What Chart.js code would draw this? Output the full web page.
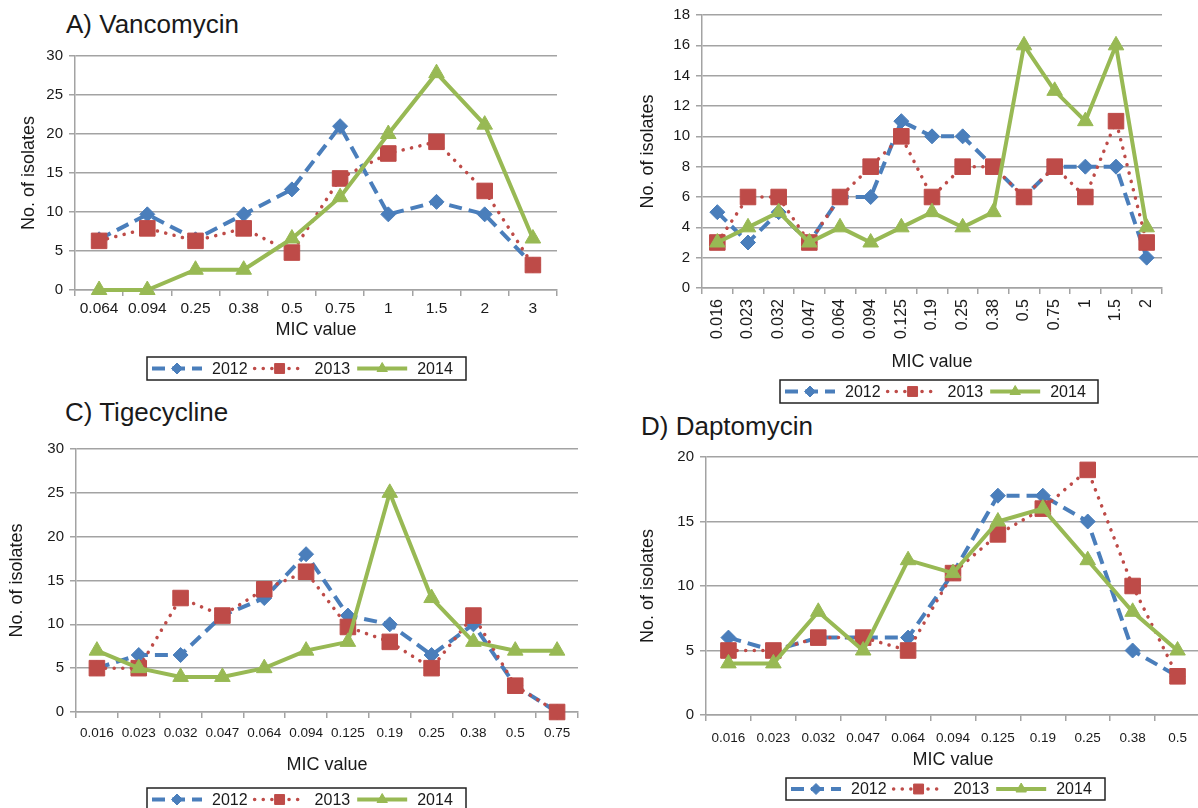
<!DOCTYPE html>
<html>
<head>
<meta charset="utf-8">
<script src="https://cdn.jsdelivr.net/npm/chart.js@4.4.0/dist/chart.umd.min.js"></script>
<style>
  html, body { margin: 0; padding: 0; background: #fff; }
  body { position: relative; width: 1198px; height: 808px; overflow: hidden; font-family: "Liberation Sans", Arial, sans-serif; }
  canvas { position: absolute; }
  .ttl { position: absolute; font-size: 26px; line-height: 26px; color: #1a1a1a; white-space: nowrap; }
</style>
</head>
<body>
<div class="ttl" style="left:66px;top:11px">A) Vancomycin</div>
<div class="ttl" style="left:65px;top:399px">C) Tigecycline</div>
<div class="ttl" style="left:641px;top:413px">D) Daptomycin</div>
<canvas id="chartA" width="600" height="390" style="left:0;top:0"></canvas>
<canvas id="chartB" width="598" height="410" style="left:600px;top:0"></canvas>
<canvas id="chartC" width="600" height="418" style="left:0;top:390px"></canvas>
<canvas id="chartD" width="612" height="408" style="left:600px;top:400px"></canvas>
<script>
// Data
const years = ["2012", "2013", "2014"];

const vancoMic = ["0.064", "0.094", "0.25", "0.38", "0.5", "0.75", "1", "1.5", "2", "3"];
const vanco2012 = [6.5, 9.7, 6.5, 9.7, 12.9, 21, 9.7, 11.3, 9.7, 3.2];
const vanco2013 = [6.3, 7.9, 6.3, 7.9, 4.8, 14.3, 17.5, 19, 12.7, 3.2];
const vanco2014 = [0, 0, 2.6, 2.6, 6.6, 11.9, 20, 27.8, 21.2, 6.6];

const panelBMic = ["0.016", "0.023", "0.032", "0.047", "0.064", "0.094", "0.125", "0.19", "0.25", "0.38", "0.5", "0.75", "1", "1.5", "2"];
const panelB2012 = [5, 3, 5, 3, 6, 6, 11, 10, 10, 8, 6, 8, 8, 8, 2];
const panelB2013 = [3, 6, 6, 3, 6, 8, 10, 6, 8, 8, 6, 8, 6, 11, 3];
const panelB2014 = [3, 4, 5, 3, 4, 3, 4, 5, 4, 5, 16, 13, 11, 16, 4];

const tigeMic = ["0.016", "0.023", "0.032", "0.047", "0.064", "0.094", "0.125", "0.19", "0.25", "0.38", "0.5", "0.75"];
const tige2012 = [5, 6.5, 6.5, 11, 13, 18, 11, 10, 6.5, 10, 3, 0];
const tige2013 = [5, 5, 13, 11, 14, 16, 9.7, 8, 5, 11, 3, 0];
const tige2014 = [7, 5, 4, 4, 5, 7, 8, 25, 13, 8, 7, 7];

const daptoMic = ["0.016", "0.023", "0.032", "0.047", "0.064", "0.094", "0.125", "0.19", "0.25", "0.38", "0.5"];
const dapto2012 = [6, 5, 6, 6, 6, 11, 17, 17, 15, 5, 3];
const dapto2013 = [5, 5, 6, 6, 5, 11, 14, 16, 19, 10, 3];
const dapto2014 = [4, 4, 8, 5, 12, 11, 15, 16, 12, 8, 5];

// Styles (Excel 2010 palette)
const FONT = '"Liberation Sans", Arial, sans-serif';
const GRID = "#a3a3a3";
const styles = [
  { color: "#4a7ebb", dash: [13, 7], cap: "butt", width: 4, point: "rectRot", radius: 7.5, legendRadius: 5.5, order: 3 },
  { color: "#be4b48", dash: [0.1, 8.5], cap: "round", width: 3.5, point: "rect", radius: 11, legendRadius: 7, order: 2 },
  { color: "#98b954", dash: [], cap: "butt", width: 4, point: "triangle", radius: 9, legendRadius: 6, order: 1 },
];

Chart.defaults.font.family = FONT;
Chart.defaults.color = "#1a1a1a";

// legend drawn as a boxed strip with line + marker samples
const boxLegend = {
  id: "boxLegend",
  afterDraw(chart, args, opts) {
    const ctx = chart.ctx;
    const cy = opts.top + opts.height / 2;
    ctx.save();
    ctx.lineWidth = 1.5;
    ctx.strokeStyle = "#222";
    ctx.strokeRect(opts.left, opts.top, opts.width, opts.height);
    ctx.font = "16px " + FONT;
    ctx.textBaseline = "middle";
    let x = opts.left + 5;
    chart.data.datasets.forEach(function (ds, i) {
      ctx.save();
      ctx.strokeStyle = ds.borderColor;
      ctx.lineWidth = ds.borderWidth;
      ctx.lineCap = ds.borderCapStyle;
      ctx.setLineDash(ds.borderDash);
      ctx.beginPath();
      ctx.moveTo(x, cy);
      ctx.lineTo(x + 50, cy);
      ctx.stroke();
      ctx.restore();
      ctx.fillStyle = ds.pointBackgroundColor;
      ctx.strokeStyle = ds.pointBorderColor;
      ctx.lineWidth = 1;
      Chart.helpers.drawPoint(ctx, { pointStyle: ds.pointStyle, radius: styles[i].legendRadius, borderWidth: 1, rotation: 0 }, x + 25, cy);
      ctx.fillStyle = "#1a1a1a";
      ctx.fillText(ds.label, x + 60, cy + 1);
      x += 60 + ctx.measureText(ds.label).width + 7;
    });
    ctx.restore();
  },
};

function makeChart(id, labels, series, p) {
  const datasets = series.map(function (data, i) {
    const s = styles[i];
    return {
      label: years[i],
      data: data,
      borderColor: s.color,
      borderWidth: s.width,
      borderDash: s.dash,
      borderCapStyle: s.cap,
      pointStyle: s.point,
      pointRadius: s.radius,
      pointHoverRadius: s.radius,
      pointBackgroundColor: s.color,
      pointBorderColor: s.color,
      pointBorderWidth: 1,
      tension: 0,
      order: s.order,
      clip: false,
    };
  });
  return new Chart(document.getElementById(id), {
    type: "line",
    data: { labels: labels, datasets: datasets },
    plugins: [boxLegend],
    options: {
      responsive: false,
      animation: false,
      devicePixelRatio: 1,
      layout: { padding: p.pad },
      plugins: {
        legend: { display: false },
        tooltip: { enabled: false },
        boxLegend: p.legend,
      },
      scales: {
        x: {
          offset: true,
          grid: { offset: true, drawOnChartArea: false, tickLength: 6, color: GRID, lineWidth: 1.5 },
          border: { color: GRID, width: 1.5 },
          ticks: {
            autoSkip: false,
            minRotation: p.rot,
            maxRotation: p.rot,
            padding: p.xTickPad,
            font: { size: p.xTickFont },
            color: "#1a1a1a",
          },
          title: { display: true, text: "MIC value", font: { size: 18 }, padding: { top: 0, bottom: p.xTitlePad }, color: "#1a1a1a" },
          afterFit: function (s) { s.height = p.xHeight; },
        },
        y: {
          min: 0,
          max: p.max,
          ticks: { stepSize: p.step, padding: 6, font: { size: 15 }, color: "#1a1a1a" },
          grid: { color: GRID, lineWidth: 1.5, tickLength: 6 },
          border: { color: GRID, width: 1.5 },
          title: { display: true, text: "No. of isolates", font: { size: 18 }, padding: { top: p.yTitlePad, bottom: 0 }, color: "#1a1a1a" },
          afterFit: function (s) { s.width = p.yWidth; },
        },
      },
    },
  });
}

makeChart("chartA", vancoMic, [vanco2012, vanco2013, vanco2014], {
  pad: { top: 56, right: 43, bottom: 48, left: 0 },
  yWidth: 75, xHeight: 52, yTitlePad: 18, xTitlePad: 1,
  xTickFont: 15.5, xTickPad: 3, rot: 0, max: 30, step: 5,
  legend: { left: 147, top: 357, width: 319, height: 23 },
});

makeChart("chartB", panelBMic, [panelB2012, panelB2013, panelB2014], {
  pad: { top: 15, right: 36, bottom: 37, left: 0 },
  yWidth: 102, xHeight: 85, yTitlePad: 37, xTitlePad: 0,
  xTickFont: 16, xTickPad: 5, rot: 90, max: 18, step: 2,
  legend: { left: 180, top: 380, width: 318, height: 23 },
});

makeChart("chartC", tigeMic, [tige2012, tige2013, tige2014], {
  pad: { top: 59, right: 22, bottom: 31, left: 0 },
  yWidth: 76, xHeight: 65, yTitlePad: 6, xTitlePad: 1,
  xTickFont: 13.5, xTickPad: 7, rot: 0, max: 30, step: 5,
  legend: { left: 147, top: 398, width: 319, height: 23 },
});

makeChart("chartD", daptoMic, [dapto2012, dapto2013, dapto2014], {
  pad: { top: 57, right: 3, bottom: 36, left: 0 },
  yWidth: 106, xHeight: 57, yTitlePad: 37, xTitlePad: 1,
  xTickFont: 13.5, xTickPad: 9, rot: 0, max: 20, step: 5,
  legend: { left: 186, top: 378, width: 319, height: 22 },
});
</script>
</body>
</html>
